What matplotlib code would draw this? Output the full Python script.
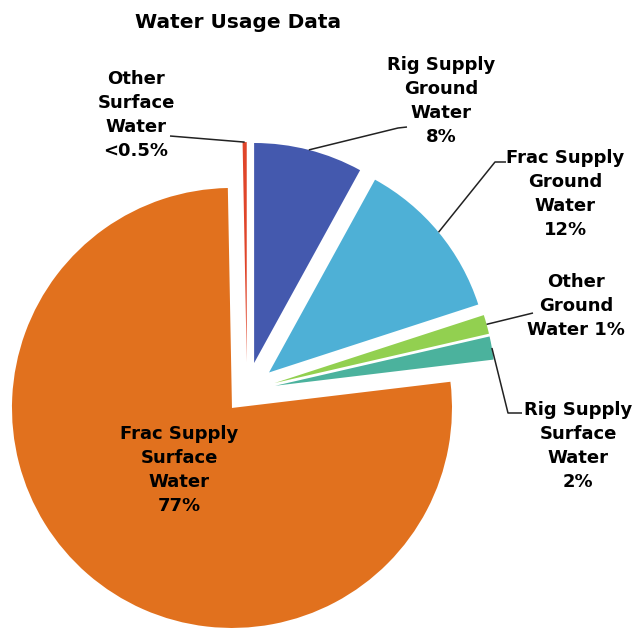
import numpy as np
import matplotlib.pyplot as plt

# %% data
labels = ['Rig Supply\nGround\nWater\n8%',
          'Frac Supply\nGround\nWater\n12%',
          'Other\nGround\nWater 1%',
          'Rig Supply\nSurface\nWater\n2%',
          'Frac Supply\nSurface\nWater\n77%',
          'Other\nSurface\nWater\n<0.5%']
shares = [8.0, 12.0, 1.4, 1.7, 76.6, 0.3]
colors = ['#4459AE', '#4EB0D6', '#92D050', '#4BB29D', '#E1711E', '#E0452A']

# %% layout (pixel positions of the reference picture)
S = 220.0            # pixels per pie radius
CX, CY = 247.0, 390.7  # pie centre in pixels


def px(x, y):
    return (x - CX) / S, (CY - y) / S


explode = [0.13, 0.13, 0.13, 0.13, 0.104, 0.13]
text_pos = [(441, 101), (565, 194), (576, 306), (578, 446), (179, 470), (136, 115)]
elbows = [[(398, 128), (407, 127)],
          [(495, 162), (506, 162)],
          [(533, 313)],
          [(508, 413), (522, 413)],
          [],
          [(170, 136)]]

# %% plot
fig = plt.figure(figsize=(6.34, 6.30), dpi=100)
ax = fig.add_axes([0, 0, 1, 1])
wedges, _ = ax.pie(shares, colors=colors, startangle=90, counterclock=False,
                   explode=explode, radius=1, wedgeprops=dict(linewidth=0))
ax.set_xlim(px(0, 0)[0], px(634, 0)[0])
ax.set_ylim(px(0, 630)[1], px(0, 0)[1])
ax.set_aspect('equal')
ax.axis('off')

for w, lab, pos, elb in zip(wedges, labels, text_pos, elbows):
    if elb:
        # leader starts on the rim at the middle of the slice
        t = np.deg2rad((w.theta1 + w.theta2) / 2)
        x0 = w.center[0] + w.r * np.cos(t)
        y0 = w.center[1] + w.r * np.sin(t)
        pts = [(x0, y0)] + [px(*p) for p in elb]
        ax.plot([p[0] for p in pts], [p[1] for p in pts], color='#222222', lw=1.1,
                solid_capstyle='butt')
    ax.text(*px(*pos), lab, ha='center', va='center', fontsize=13,
            fontweight='bold', family='DejaVu Sans', linespacing=1.44, color='black')

ax.text(*px(238, 22), 'Water Usage Data', ha='center', va='center', fontsize=14.5,
        fontweight='bold', family='DejaVu Sans')

fig.savefig('out.png', dpi=100)
